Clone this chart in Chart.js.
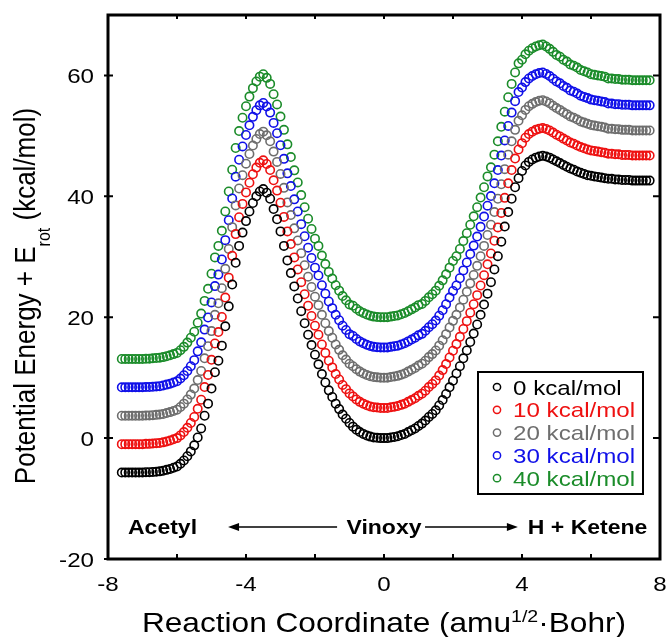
<!DOCTYPE html>
<html>
<head>
<meta charset="utf-8">
<title>Potential energy along the reaction coordinate</title>
<script src="https://cdn.jsdelivr.net/npm/chart.js@4.4.1/dist/chart.umd.min.js"></script>
<style>
  body { margin: 0; background: #fff; }
  #wrap { width: 667px; height: 637px; }
</style>
</head>
<body>
<div id="wrap"><canvas id="pes"></canvas></div>
<script>
// reaction coordinate (amu^1/2 Bohr)
const coord = [
  -7.6, -7.5, -7.4, -7.3, -7.2, -7.1, -7.0, -6.9, -6.8, -6.7, -6.6, -6.5, -6.4, -6.3, -6.2, -6.1,
  -6.0, -5.9, -5.8, -5.7, -5.6, -5.5, -5.4, -5.3, -5.2, -5.1, -5.0, -4.9, -4.8, -4.7, -4.6, -4.5,
  -4.4, -4.3, -4.2, -4.1, -4.0, -3.9, -3.8, -3.7, -3.6, -3.5, -3.4, -3.3, -3.2, -3.1, -3.0, -2.9,
  -2.8, -2.7, -2.6, -2.5, -2.4, -2.3, -2.2, -2.1, -2.0, -1.9, -1.8, -1.7, -1.6, -1.5, -1.4, -1.3,
  -1.2, -1.1, -1.0, -0.9, -0.8, -0.7, -0.6, -0.5, -0.4, -0.3, -0.2, -0.1, 0.0, 0.1, 0.2, 0.3,
  0.4, 0.5, 0.6, 0.7, 0.8, 0.9, 1.0, 1.1, 1.2, 1.3, 1.4, 1.5, 1.6, 1.7, 1.8, 1.9,
  2.0, 2.1, 2.2, 2.3, 2.4, 2.5, 2.6, 2.7, 2.8, 2.9, 3.0, 3.1, 3.2, 3.3, 3.4, 3.5,
  3.6, 3.7, 3.8, 3.9, 4.0, 4.1, 4.2, 4.3, 4.4, 4.5, 4.6, 4.7, 4.8, 4.9, 5.0, 5.1,
  5.2, 5.3, 5.4, 5.5, 5.6, 5.7, 5.8, 5.9, 6.0, 6.1, 6.2, 6.3, 6.4, 6.5, 6.6, 6.7,
  6.8, 6.9, 7.0, 7.1, 7.2, 7.3, 7.4, 7.5, 7.6, 7.7
];

// potential energy + E_rot (kcal/mol), one list per rotational energy
const erot0 = [
  -5.7, -5.7, -5.7, -5.7, -5.7, -5.7, -5.7, -5.65, -5.65, -5.6, -5.55, -5.5, -5.4, -5.25, -5.1, -4.9,
  -4.7, -4.25, -3.7, -3.0, -2.2, -1.2,
  0.1, 1.6, 3.7, 5.7, 8.2, 10.9, 12.8, 15.3, 18.5, 21.8, 25.4, 29.0, 31.8, 34.0, 35.9, 37.5,
  38.9, 40.0, 40.8, 41.2, 40.6, 39.6, 37.9, 36.2, 34.2,
  31.8, 29.4, 27.3, 25.1, 23.1, 21.0, 19.0, 17.1, 15.4, 13.8,
  12.2, 10.6, 9.2, 7.9, 6.8, 5.7, 4.8, 3.9, 3.2, 2.5,
  1.9, 1.4, 1.0, 0.7, 0.45, 0.25, 0.1, 0.05, 0, 0, 0, 0.1, 0.2, 0.3, 0.5, 0.7, 1.0, 1.3, 1.6, 2.0,
  2.4, 2.9, 3.5, 4.0, 4.6, 5.4, 6.3, 7.3, 8.4, 9.5,
  10.7, 11.9, 13.2, 14.5, 15.9, 17.3, 18.8, 20.4, 22.1, 23.9,
  25.8, 27.9, 30.1, 32.5, 35.0, 37.4, 39.6, 41.5, 43.0,
  44.2, 45.1, 45.7, 46.1, 46.4, 46.6, 46.7,
  46.6, 46.4, 46.1, 45.8, 45.5, 45.2, 44.9, 44.6, 44.4, 44.1, 43.9, 43.7, 43.5, 43.4, 43.3, 43.2,
  43.1, 43.0, 42.9, 42.9, 42.8, 42.8, 42.7, 42.7, 42.7, 42.6, 42.6, 42.6, 42.6, 42.6, 42.6
];
const erot10 = [
  -1.0, -1.0, -1.0, -1.0, -1.0, -1.0, -1.0, -0.95, -0.95, -0.9, -0.85, -0.8, -0.7, -0.55, -0.4, -0.2,
  0.0, 0.45, 1.0, 1.7, 2.5, 3.5,
  4.85, 6.35, 8.45, 10.45, 12.95, 15.65, 17.55, 20.05, 23.25, 26.55, 30.15, 33.75, 36.55, 38.75, 40.65, 42.25,
  43.65, 44.75, 45.55, 45.95, 45.35, 44.35, 42.65, 40.95, 38.95,
  36.6, 34.2, 32.1, 29.9, 27.9, 25.8, 23.8, 21.9, 20.2, 18.6,
  17.1, 15.5, 14.1, 12.8, 11.7, 10.6, 9.7, 8.8, 8.1, 7.4,
  6.9, 6.4, 6.0, 5.7, 5.45, 5.25, 5.1, 5.05, 5, 5, 5, 5.1, 5.2, 5.3, 5.5, 5.7, 6.0, 6.3, 6.6, 7.0,
  7.35, 7.85, 8.45, 8.95, 9.55, 10.35, 11.25, 12.25, 13.35, 14.45,
  15.55, 16.75, 18.05, 19.35, 20.75, 22.15, 23.65, 25.25, 26.95, 28.75,
  30.55, 32.65, 34.85, 37.25, 39.75, 42.15, 44.35, 46.25, 47.75,
  48.8, 49.7, 50.3, 50.7, 51.0, 51.2, 51.3,
  51.15, 50.9, 50.55, 50.2, 49.9, 49.55, 49.25, 48.9, 48.7, 48.4, 48.15, 47.95, 47.75, 47.6, 47.5, 47.4,
  47.3, 47.2, 47.05, 47.05, 46.95, 46.95, 46.85, 46.85, 46.85, 46.75, 46.75, 46.75, 46.75, 46.75, 46.75
];
const erot20 = [
  3.7, 3.7, 3.7, 3.7, 3.7, 3.7, 3.7, 3.75, 3.75, 3.8, 3.85, 3.9, 4.0, 4.15, 4.3, 4.5,
  4.7, 5.15, 5.7, 6.4, 7.2, 8.2,
  9.6, 11.1, 13.2, 15.2, 17.7, 20.4, 22.3, 24.8, 28.0, 31.3, 34.9, 38.5, 41.3, 43.5, 45.4, 47.0,
  48.4, 49.5, 50.3, 50.7, 50.1, 49.1, 47.4, 45.7, 43.7,
  41.4, 39.0, 36.9, 34.7, 32.7, 30.6, 28.6, 26.7, 25.0, 23.4,
  22.0, 20.4, 19.0, 17.7, 16.6, 15.5, 14.6, 13.7, 13.0, 12.3,
  11.9, 11.4, 11.0, 10.7, 10.45, 10.25, 10.1, 10.05, 10, 10, 10, 10.1, 10.2, 10.3, 10.5, 10.7, 11.0, 11.3, 11.6, 12.0,
  12.3, 12.8, 13.4, 13.9, 14.5, 15.3, 16.2, 17.2, 18.3, 19.4,
  20.4, 21.6, 22.9, 24.2, 25.6, 27.0, 28.5, 30.1, 31.8, 33.6,
  35.3, 37.4, 39.6, 42.0, 44.5, 46.9, 49.1, 51.0, 52.5,
  53.4, 54.3, 54.9, 55.3, 55.6, 55.8, 55.9,
  55.7, 55.4, 55.0, 54.6, 54.3, 53.9, 53.6, 53.2, 53.0, 52.7, 52.4, 52.2, 52.0, 51.8, 51.7, 51.6,
  51.5, 51.4, 51.2, 51.2, 51.1, 51.1, 51.0, 51.0, 51.0, 50.9, 50.9, 50.9, 50.9, 50.9, 50.9
];
const erot30 = [
  8.4, 8.4, 8.4, 8.4, 8.4, 8.4, 8.4, 8.45, 8.45, 8.5, 8.55, 8.6, 8.7, 8.85, 9.0, 9.2,
  9.4, 9.85, 10.4, 11.1, 11.9, 12.9,
  14.35, 15.85, 17.95, 19.95, 22.45, 25.15, 27.05, 29.55, 32.75, 36.05, 39.65, 43.25, 46.05, 48.25, 50.15, 51.75,
  53.15, 54.25, 55.05, 55.45, 54.85, 53.85, 52.15, 50.45, 48.45,
  46.2, 43.8, 41.7, 39.5, 37.5, 35.4, 33.4, 31.5, 29.8, 28.2,
  26.9, 25.3, 23.9, 22.6, 21.5, 20.4, 19.5, 18.6, 17.9, 17.2,
  16.9, 16.4, 16.0, 15.7, 15.45, 15.25, 15.1, 15.05, 15, 15, 15, 15.1, 15.2, 15.3, 15.5, 15.7, 16.0, 16.3, 16.6, 17.0,
  17.25, 17.75, 18.35, 18.85, 19.45, 20.25, 21.15, 22.15, 23.25, 24.35,
  25.25, 26.45, 27.75, 29.05, 30.45, 31.85, 33.35, 34.95, 36.65, 38.45,
  40.05, 42.15, 44.35, 46.75, 49.25, 51.65, 53.85, 55.75, 57.25,
  58.0, 58.9, 59.5, 59.9, 60.2, 60.4, 60.5,
  60.25, 59.9, 59.45, 59.0, 58.7, 58.25, 57.95, 57.5, 57.3, 57.0, 56.65, 56.45, 56.25, 56.0, 55.9, 55.8,
  55.7, 55.6, 55.35, 55.35, 55.25, 55.25, 55.15, 55.15, 55.15, 55.05, 55.05, 55.05, 55.05, 55.05, 55.05
];
const erot40 = [
  13.1, 13.1, 13.1, 13.1, 13.1, 13.1, 13.1, 13.15, 13.15, 13.2, 13.25, 13.3, 13.4, 13.55, 13.7, 13.9,
  14.1, 14.55, 15.1, 15.8, 16.6, 17.6,
  19.1, 20.6, 22.7, 24.7, 27.2, 29.9, 31.8, 34.3, 37.5, 40.8, 44.4, 48.0, 50.8, 53.0, 54.9, 56.5,
  57.9, 59.0, 59.8, 60.2, 59.6, 58.6, 56.9, 55.2, 53.2,
  51.0, 48.6, 46.5, 44.3, 42.3, 40.2, 38.2, 36.3, 34.6, 33.0,
  31.8, 30.2, 28.8, 27.5, 26.4, 25.3, 24.4, 23.5, 22.8, 22.1,
  21.9, 21.4, 21.0, 20.7, 20.45, 20.25, 20.1, 20.05, 20, 20, 20, 20.1, 20.2, 20.3, 20.5, 20.7, 21.0, 21.3, 21.6, 22.0,
  22.2, 22.7, 23.3, 23.8, 24.4, 25.2, 26.1, 27.1, 28.2, 29.3,
  30.1, 31.3, 32.6, 33.9, 35.3, 36.7, 38.2, 39.8, 41.5, 43.3,
  44.8, 46.9, 49.1, 51.5, 54.0, 56.4, 58.6, 60.5, 62.0,
  62.6, 63.5, 64.1, 64.5, 64.8, 65.0, 65.1,
  64.8, 64.4, 63.9, 63.4, 63.1, 62.6, 62.3, 61.8, 61.6, 61.3, 60.9, 60.7, 60.5, 60.2, 60.1, 60.0,
  59.9, 59.8, 59.5, 59.5, 59.4, 59.4, 59.3, 59.3, 59.3, 59.2, 59.2, 59.2, 59.2, 59.2, 59.2
];

const seriesLabels = ['0 kcal/mol', '10 kcal/mol', '20 kcal/mol', '30 kcal/mol', '40 kcal/mol'];
const seriesValues = [erot0, erot10, erot20, erot30, erot40];
const xTickLabels = [-8, -4, 0, 4, 8];
const yTickLabels = [-20, 0, 20, 40, 60];

const colors = ['#000000', '#ee1111', '#6e6e6e', '#1010e8', '#1b8c2a'];
const FONT = "'Liberation Sans', Arial, sans-serif";
const SX = 1.15; // glyphs in this figure are drawn a little wide

// region labels along the bottom of the plot, in data units
const regionNotes = [
  { text: 'Acetyl', x: -7.42, align: 'left' },
  { text: 'Vinoxy', x: 0, align: 'center' },
  { text: 'H + Ketene', x: 4.17, align: 'left' }
];
const regionArrows = [[-1.36, -4.52], [1.19, 3.88]];
const noteY = -14.7;

function runsWidth(ctx, runs) {
  let w = 0;
  runs.forEach(r => { ctx.font = r.font; w += ctx.measureText(r.text).width; });
  return w;
}

// draws text pieces (for sub/superscripts) with a horizontal stretch
function drawRuns(ctx, runs, x, y, align, rotate) {
  ctx.save();
  ctx.translate(x, y);
  ctx.scale(SX, 1);
  if (rotate) ctx.rotate(-Math.PI / 2);
  const w = runsWidth(ctx, runs);
  let cx = align === 'center' ? -w / 2 : align === 'right' ? -w : 0;
  ctx.textAlign = 'left';
  ctx.textBaseline = 'alphabetic';
  runs.forEach(r => {
    ctx.font = r.font;
    ctx.fillStyle = r.color || '#000';
    ctx.fillText(r.text, cx, r.dy || 0);
    cx += ctx.measureText(r.text).width;
  });
  ctx.restore();
}

function arrowHead(ctx, x, y, dir) {
  ctx.beginPath();
  ctx.moveTo(x, y);
  ctx.lineTo(x - dir * 11, y - 4);
  ctx.lineTo(x - dir * 11, y + 4);
  ctx.closePath();
  ctx.fill();
}

const framePlugin = {
  id: 'frame',
  afterDraw(chart) {
    const { ctx, chartArea: a, scales: { x, y } } = chart;
    ctx.save();
    ctx.strokeStyle = '#000';
    ctx.fillStyle = '#000';

    // box around the plot
    ctx.lineWidth = 3;
    ctx.strokeRect(a.left, a.top, a.right - a.left, a.bottom - a.top);

    // tick marks
    ctx.lineWidth = 2;
    ctx.beginPath();
    for (let v = -6; v <= 6; v += 2) {
      const px = x.getPixelForValue(v);
      ctx.moveTo(px, a.bottom); ctx.lineTo(px, a.bottom - 5);
      ctx.moveTo(px, a.top); ctx.lineTo(px, a.top + 4);
    }
    yTickLabels.forEach(v => {
      const py = y.getPixelForValue(v);
      ctx.moveTo(a.left - 4, py); ctx.lineTo(a.left + 5, py);
      ctx.moveTo(a.right, py); ctx.lineTo(a.right - 7, py);
    });
    ctx.stroke();

    // tick labels
    const tickFont = '21px ' + FONT;
    xTickLabels.forEach(v => {
      drawRuns(ctx, [{ text: String(v), font: tickFont }], x.getPixelForValue(v), 591, 'center');
    });
    yTickLabels.forEach(v => {
      drawRuns(ctx, [{ text: String(v), font: tickFont }], 94, y.getPixelForValue(v) + 7.5, 'right');
    });

    // axis titles
    drawRuns(ctx, [
      { text: 'Reaction Coordinate (amu', font: '27.5px ' + FONT },
      { text: '1/2', font: '17px ' + FONT, dy: -10 },
      { text: '\u00b7Bohr)', font: '27.5px ' + FONT }
    ], (a.left + a.right) / 2, 632, 'center');
    drawRuns(ctx, [
      { text: 'Potential Energy + E', font: '26px ' + FONT },
      { text: 'rot', font: '16px ' + FONT, dy: 13 },
      { text: ' (kcal/mol)', font: '26px ' + FONT }
    ], 35, 296, 'center', true);

    // region labels and arrows
    const ny = y.getPixelForValue(noteY);
    regionNotes.forEach(n => {
      drawRuns(ctx, [{ text: n.text, font: 'bold 20px ' + FONT }], x.getPixelForValue(n.x), ny + 7, n.align);
    });
    ctx.lineWidth = 1.5;
    regionArrows.forEach(([from, to]) => {
      const x0 = x.getPixelForValue(from), x1 = x.getPixelForValue(to);
      const dir = x1 > x0 ? 1 : -1;
      ctx.beginPath();
      ctx.moveTo(x0, ny); ctx.lineTo(x1 - dir * 8, ny);
      ctx.stroke();
      arrowHead(ctx, x1, ny, dir);
    });

    // legend box
    const lx = 478, ly = 372, lw = 165, lh = 122;
    ctx.fillStyle = '#fff';
    ctx.fillRect(lx, ly, lw, lh);
    ctx.lineWidth = 2;
    ctx.strokeRect(lx, ly, lw, lh);
    seriesLabels.forEach((label, i) => {
      const cy = ly + 15 + i * 22.8;
      ctx.strokeStyle = colors[i];
      ctx.lineWidth = 1.5;
      ctx.beginPath();
      ctx.arc(lx + 19, cy, 3.6, 0, Math.PI * 2);
      ctx.stroke();
      drawRuns(ctx, [{ text: label, font: '21px ' + FONT, color: colors[i] }], lx + 35, cy + 7.5, 'left');
    });
    ctx.restore();
  }
};

const datasets = seriesValues.map((vals, i) => ({
  label: seriesLabels[i],
  data: coord.map((c, j) => ({ x: c, y: vals[j] })),
  showLine: false,
  pointStyle: 'circle',
  pointRadius: 4.2,
  pointBorderWidth: 1.6,
  pointBorderColor: colors[i],
  pointBackgroundColor: 'rgba(0,0,0,0)',
  pointHoverRadius: 4.2
}));

new Chart(document.getElementById('pes'), {
  type: 'scatter',
  data: { datasets },
  options: {
    responsive: true,
    maintainAspectRatio: false,
    animation: false,
    devicePixelRatio: 1,
    layout: { padding: { left: 108, right: 7, top: 15, bottom: 78 } },
    scales: {
      x: { type: 'linear', min: -8, max: 8, display: false },
      y: { type: 'linear', min: -20, max: 70, display: false }
    },
    plugins: {
      legend: { display: false },
      tooltip: { enabled: false }
    }
  },
  plugins: [framePlugin]
});
</script>
</body>
</html>
